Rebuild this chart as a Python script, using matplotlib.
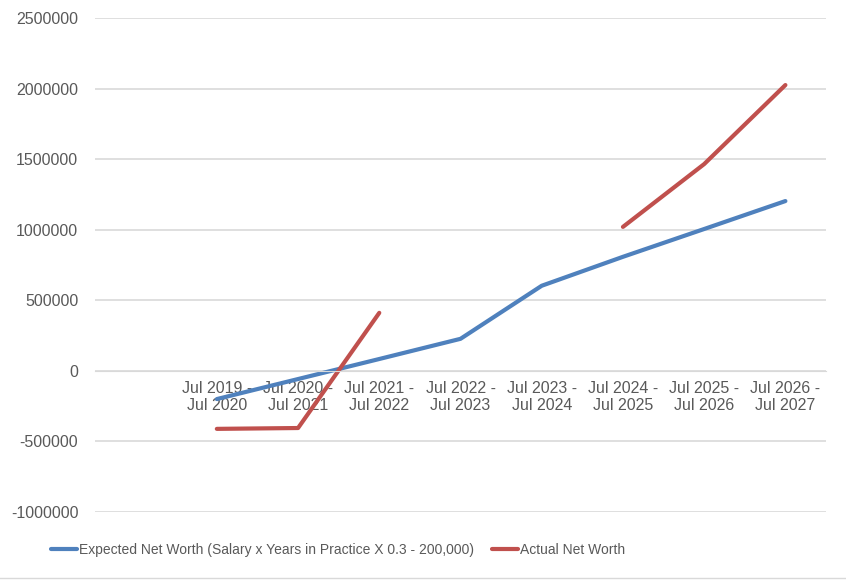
import matplotlib.pyplot as plt
import numpy as np
from matplotlib.lines import Line2D

# categories (first one is blank in the original)
periods = ["", "Jul 2019 -\nJul 2020", "Jul 2020 -\nJul 2021", "Jul 2021 -\nJul 2022",
           "Jul 2022 -\nJul 2023", "Jul 2023 -\nJul 2024", "Jul 2024 -\nJul 2025",
           "Jul 2025 -\nJul 2026", "Jul 2026 -\nJul 2027"]
expected = [np.nan, -200000, -58000, 84000, 227000, 603000, 808000, 1005000, 1203000]
actual = [np.nan, -411000, -405000, 411000, np.nan, np.nan, 1020000, 1465000, 2025000]

plt.rcParams['font.family'] = ['Liberation Sans', 'DejaVu Sans']

fig = plt.figure(figsize=(8.46, 5.8), dpi=100)
ax = fig.add_axes([95/846, 1-512/580, (826-95)/846, (512-18)/580])

x = np.arange(len(periods))
ax.plot(x, expected, color='#4F81BD', lw=3, solid_capstyle='round',
        label='Expected Net Worth (Salary x Years in Practice X 0.3 - 200,000)')
ax.plot(x, actual, color='#C0504D', lw=3, solid_capstyle='round',
        label='Actual Net Worth')

ax.set_xlim(-0.5, 8.5)
ax.set_ylim(-1000000, 2500000)
ax.set_yticks(np.arange(-1000000, 2500001, 500000))
ax.set_yticklabels([str(v) for v in range(-1000000, 2500001, 500000)])
ax.grid(axis='y', color='#d9d9d9', lw=1.2)
ax.set_axisbelow(True)
for s in ['top', 'right', 'left']:
    ax.spines[s].set_visible(False)
ax.spines['bottom'].set_position(('data', 0))
ax.spines['bottom'].set_color('#d9d9d9')
ax.set_xticks(x)
ax.set_xticklabels(periods)
ax.tick_params(axis='both', length=0, colors='#595959', labelsize=11.5)
ax.tick_params(axis='x', pad=7)
ax.tick_params(axis='y', pad=12)

fig.legend(loc='center left', bbox_to_anchor=(38/846, 1-550/580), ncol=2, frameon=False,
           fontsize=10, labelcolor='#595959', handlelength=1.9, handletextpad=0.15,
           columnspacing=1.3)

fig.add_artist(Line2D([0, 1], [1-578/580, 1-578/580], color='#d9d9d9', lw=1))

fig.savefig('out.png', dpi=100)
